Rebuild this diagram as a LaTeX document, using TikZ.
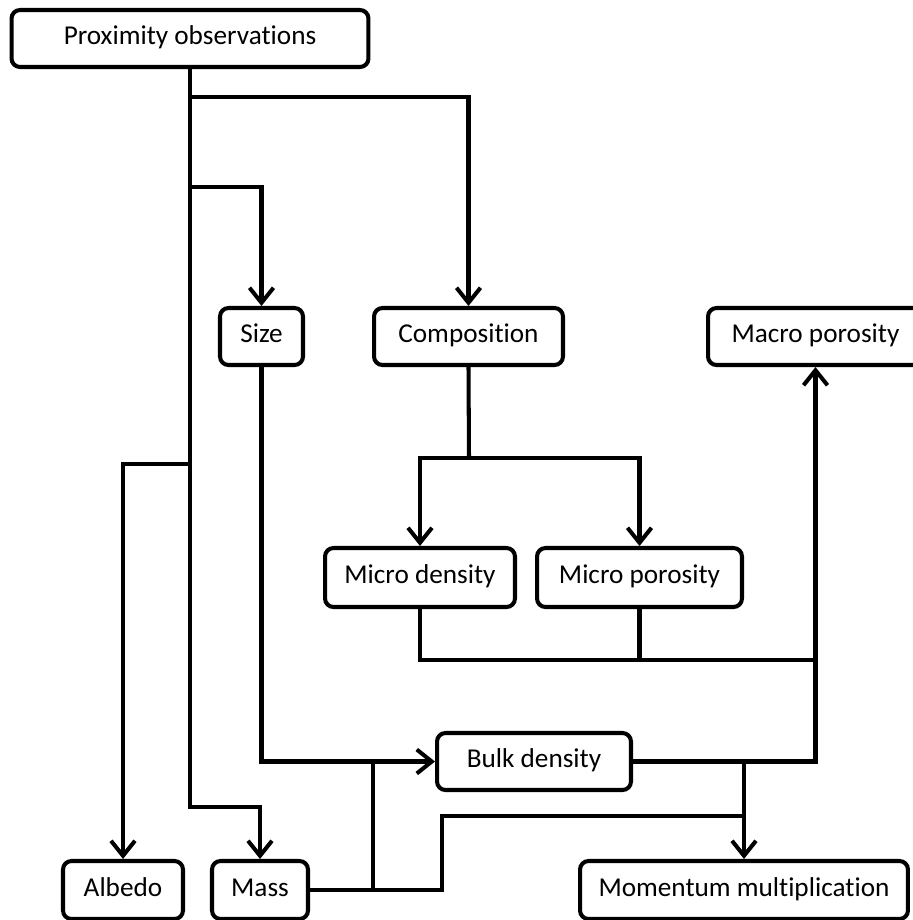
\documentclass[tikz,border=0pt]{standalone}
\usepackage{fontspec}
\setmainfont[Ligatures={NoCommon}]{Carlito}
\usepackage{tikz}
\usetikzlibrary{arrows.meta,positioning,calc}

\begin{document}
\begin{tikzpicture}[
    x=0.02cm, y=-0.02cm,
    box/.style={draw, line width=2.3pt, rounded corners=0.17cm, minimum height=1.14cm, inner sep=0pt, text height=0.82em, text depth=0.1em, font=\fontsize{15.5}{18}\selectfont, align=center},
    link/.style={line width=2.3pt},
    arr/.style={link, -{Straight Barb[length=0.3cm, width=0.48cm]}}
]
\clip (0,0) rectangle (913,920);
\fill[white] (0,0) rectangle (913,920);

% nodes
\node[box, minimum width=7.14cm] (prox) at (190,38.5) {Proximity observations};
\node[box, minimum width=1.66cm] (size) at (261.5,336.5) {Size};
\node[box, minimum width=3.78cm] (comp) at (468.5,336.5) {Composition};
\node[box, minimum width=4.3cm] (macro) at (815.5,336.5) {Macro porosity};
\node[box, minimum width=3.8cm, minimum height=1.18cm] (mdens) at (420,577.5) {Micro density};
\node[box, minimum width=4.1cm, minimum height=1.18cm] (mpor) at (639.5,577.5) {Micro porosity};
\node[box, minimum width=3.88cm] (bulk) at (534,761.5) {Bulk density};
\node[box, minimum width=2.4cm, minimum height=1.16cm] (albedo) at (123,890) {Albedo};
\node[box, minimum width=1.92cm, minimum height=1.16cm] (mass) at (260,890) {Mass};
\node[box, minimum width=6.56cm, minimum height=1.16cm] (mom) at (744,890) {Momentum multiplication};

% junctions
\coordinate (jcomp) at (190,97);
\coordinate (jsize) at (190,187);
\coordinate (jalb) at (190,464);
\coordinate (jmass) at (190,807);
\coordinate (jmic) at (469,458);
\coordinate (jpor) at (815,660);
\coordinate (jbulk) at (373,761.5);
\coordinate (jlow) at (442,816);

% connectors
\draw[arr] (prox.south) -- (jmass) -| (mass.north);
\draw[arr] (jcomp) -| (comp.north);
\draw[arr] (jsize) -| (size.north);
\draw[arr] (jalb) -| (albedo.north);
\draw[link] (comp.south) -- (jmic);
\draw[arr] (jmic) -| (mdens.north);
\draw[arr] (jmic) -| (mpor.north);
\draw[link] (mdens.south) |- (jpor);
\draw[link] (mpor.south) -- (mpor.south |- jpor);
\draw[arr] (bulk.east) -| (macro.south);
\draw[arr] (bulk.east -| mom.north) -- (mom.north);
\draw[arr] (size.south) |- (bulk.west);
\draw[link] (mass.east) -| (jlow) -| (mom.north |- bulk.east);
\draw[link] (mass.east -| jbulk) -- (jbulk);
\end{tikzpicture}
\end{document}
